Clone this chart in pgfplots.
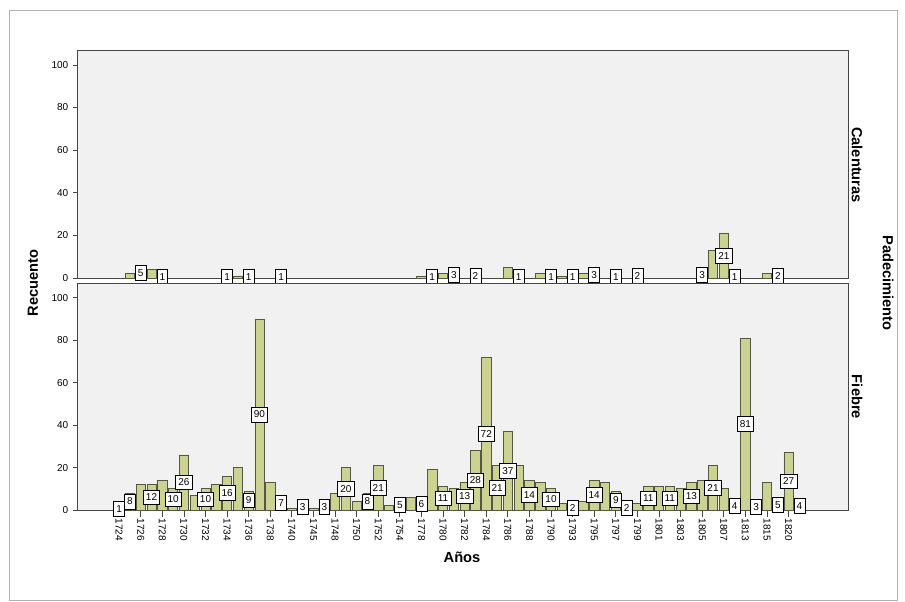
\documentclass[border=0pt]{standalone}
\usepackage{fontspec}
\setmainfont{Liberation Sans}
\usepackage{pgfplots}
\usepackage{pgfplotstable}
\pgfplotsset{compat=1.18}

\definecolor{barfill}{RGB}{204,210,145}
\definecolor{barline}{RGB}{85,88,65}
\definecolor{plotbg}{RGB}{241,241,241}
\definecolor{framec}{RGB}{70,70,70}

% k = position of the year on the axis (0 = 1724)
\pgfplotstableread{
k v
0 1
1 8
2 12
3 12
4 14
5 10
6 26
7 7
8 10
9 12
10 16
11 20
12 9
13 90
14 13
15 7
16 1
17 3
18 1
19 3
20 8
21 20
22 4
23 8
24 21
25 2
26 5
27 6
28 6
29 19
30 11
31 10
32 13
33 28
34 72
35 21
36 37
37 21
38 14
39 13
40 10
41 3
42 2
43 4
44 14
45 13
46 9
47 2
48 3
49 11
50 11
51 11
52 10
53 13
54 14
55 21
56 10
57 4
58 81
59 3
60 13
61 5
62 27
63 4
}\fiebre

\pgfplotstableread{
k v
0 1
1 8
3 12
5 10
6 26
8 10
10 16
12 9
13 90
15 7
17 3
19 3
21 20
23 8
24 21
26 5
28 6
30 11
32 13
33 28
34 72
35 21
36 37
38 14
40 10
42 2
44 14
46 9
47 2
49 11
51 11
53 13
55 21
57 4
58 81
59 3
61 5
62 27
63 4
}\fiebrelab

\pgfplotstableread{
k v
1 2
2 5
3 4
4 1
10 1
11 1
12 1
15 1
28 1
29 1
30 2
31 3
33 2
36 5
37 1
39 2
40 1
41 1
42 1
43 2
44 3
46 1
48 2
54 3
55 13
56 21
57 1
60 2
61 2
}\calent

\pgfplotstableread{
k v
2 5
4 1
10 1
12 1
15 1
29 1
31 3
33 2
37 1
40 1
42 1
44 3
46 1
48 2
54 3
56 21
57 1
61 2
}\calentlab

\begin{document}
\begin{tikzpicture}
\useasboundingbox (0,0) rectangle (678.75pt,450.75pt);
\draw[gray!60, line width=0.6pt] (6.75pt,0.75pt) rectangle (672.75pt,443.25pt);

\pgfplotsset{
  panel/.style={
    scale only axis, width=578.25pt,
    xmin=-3.9, xmax=67.5, ymin=0, ymax=107,
    ytick={0,20,...,100}, ytick pos=left,
    tick align=outside,
    axis line style={framec, line width=0.7pt},
    axis background/.style={fill=plotbg},
    clip=false,
    tick style={framec, line width=0.6pt},
    major tick length=3pt,
    ticklabel style={font=\fontsize{7.5}{9}\selectfont},
    /pgf/number format/assume math mode=true,
  },
  bars/.style={ybar, bar width=0.86, fill=barfill, draw=barline, line width=0.5pt},
  labs/.style={draw=none, mark=none, nodes near coords, point meta=explicit symbolic,
    every node near coord/.append style={anchor=center, draw=black, fill=white,
      line width=0.5pt, inner xsep=2pt, inner ysep=0pt, minimum height=11pt,
      font=\fontsize{7.5}{9}\selectfont}},
}

\begin{axis}[panel, at={(57.75pt,242.25pt)}, anchor=south west, height=171pt, xtick=\empty]
\addplot[bars] table[x=k, y=v] {\calent};
\addplot[labs] table[x=k, y expr=\thisrow{v}/2, meta=v] {\calentlab};
\end{axis}

\begin{axis}[panel, at={(57.75pt,68.25pt)}, anchor=south west, height=170.25pt,
  xtick={0,2,...,62}, xtick pos=lower,
  xticklabels={1724,1726,1728,1730,1732,1734,1736,1738,1740,1745,1748,1750,1752,1754,1778,1780,1782,1784,1786,1788,1790,1793,1795,1797,1799,1801,1803,1805,1807,1813,1815,1820},
  xticklabel style={rotate=-90, anchor=west},
  xtick style={/pgfplots/major tick length=5pt}]
\addplot[bars] table[x=k, y=v] {\fiebre};
\addplot[labs] table[x=k, y expr=\thisrow{v}/2, meta=v] {\fiebrelab};
\end{axis}

\node[rotate=90, font=\fontsize{11}{13}\selectfont\bfseries] at (24.75pt,238.5pt) {Recuento};
\node[font=\fontsize{11}{13}\selectfont\bfseries] at (346.5pt,33pt) {Años};
\node[rotate=-90, font=\fontsize{11}{13}\selectfont\bfseries] at (666pt,238.5pt) {Padecimiento};
\node[rotate=-90, font=\fontsize{11}{13}\selectfont\bfseries] at (642.75pt,327pt) {Calenturas};
\node[rotate=-90, font=\fontsize{11}{13}\selectfont\bfseries] at (642.75pt,153pt) {Fiebre};
\end{tikzpicture}
\end{document}
